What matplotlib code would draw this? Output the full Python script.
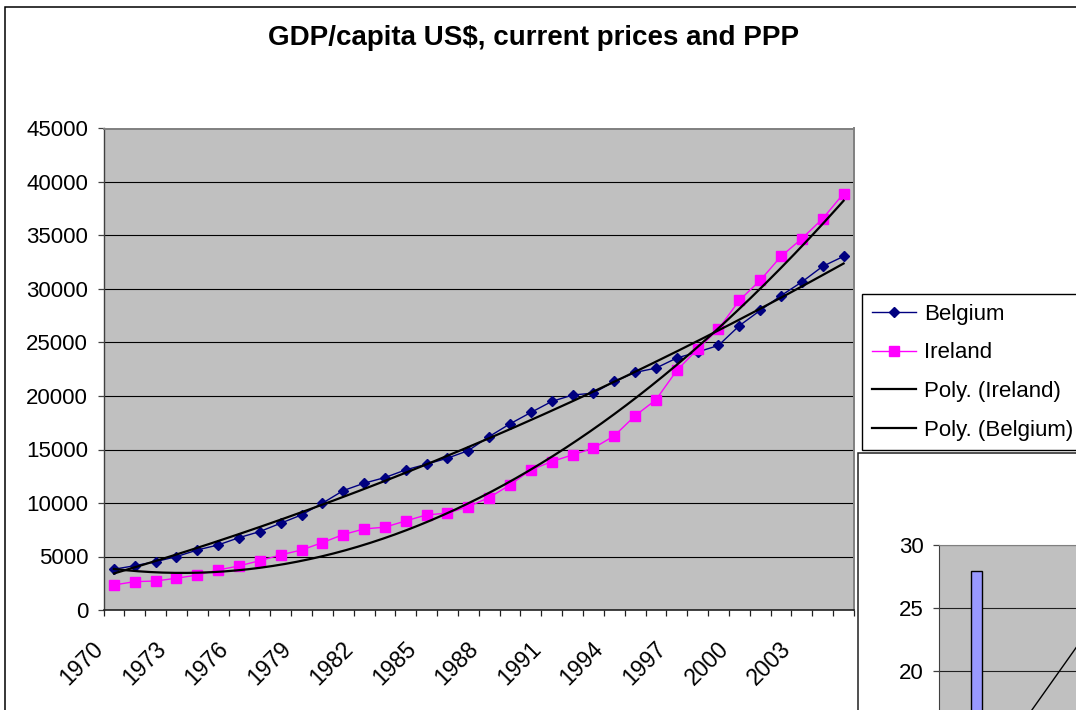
#!/usr/bin/env python3
"""GDP per capita (US$, current prices and PPP): Belgium vs Ireland, with poly trendlines."""

import matplotlib

matplotlib.use("Agg")
import matplotlib.pyplot as plt
import numpy as np
from matplotlib.lines import Line2D
from matplotlib.patches import Rectangle
from matplotlib.transforms import ScaledTranslation

YEARS = list(range(1970, 2006))
BELGIUM = [
    3810, 4140, 4520, 4990, 5610, 6080, 6760, 7330, 8110, 8890,
    9980, 11160, 11850, 12380, 13100, 13630, 14190, 14900, 16210, 17400,
    18460, 19490, 20090, 20270, 21360, 22200, 22610, 23550, 24110, 24730,
    26570, 28000, 29380, 30660, 32120, 33050,
]
IRELAND = [
    2340, 2650, 2710, 2970, 3270, 3740, 4120, 4610, 5150, 5610,
    6300, 7050, 7580, 7740, 8330, 8890, 9050, 9660, 10510, 11690,
    13100, 13870, 14500, 15130, 16280, 18150, 19650, 22390, 24390, 26260,
    28940, 30810, 33050, 34710, 36580, 38920,
]
Y_TICKS = list(range(0, 45001, 5000))

# second chart, only its top-left corner is in the picture
INSET_BAR = [27.9]
INSET_LINE = [10.7, 19.1, 27.5]
INSET_TICKS = [20, 25, 30]

W, H = 1076, 710
FONT = ["Liberation Sans", "DejaVu Sans"]
plt.rcParams["font.family"] = FONT


def fx(px):
    return px / W


def fy(py):
    return 1.0 - py / H


fig = plt.figure(figsize=(W / 100, H / 100), dpi=100)

# chart area frame (runs off the right and bottom edge)
fig.add_artist(Rectangle((fx(5), -0.2), 1.3, fy(6.5) + 0.2, transform=fig.transFigure,
                         facecolor="white", edgecolor="black", linewidth=1.1, zorder=-5))

left, right, top, bottom = 103.5, 854, 128.5, 610
ax = fig.add_axes([fx(left), fy(bottom), fx(right - left), (bottom - top) / H])
ax.set_facecolor("#C0C0C0")

x = np.arange(len(YEARS))
ax.plot(x, BELGIUM, color="#000080", linewidth=1.0, marker="D", markersize=5.6,
        markerfacecolor="#000080", markeredgecolor="#000080", zorder=3)
ax.plot(x, IRELAND, color="#FF00FF", linewidth=1.0, marker="s", markersize=7.0,
        markerfacecolor="#FF00FF", markeredgecolor="#FF00FF", zorder=3)

xs = np.linspace(0, len(YEARS) - 1, 300)
trend_ie = np.polyval(np.polyfit(x, IRELAND, 2), xs)
trend_be = np.polyval(np.polyfit(x, BELGIUM, 2), xs)
ax.plot(xs, trend_ie, color="black", linewidth=1.6, zorder=4)
ax.plot(xs, trend_be, color="black", linewidth=1.6, zorder=4)

ax.set_xlim(-0.5, len(YEARS) - 0.5)
ax.set_ylim(0, 45000)
ax.set_yticks(Y_TICKS)
ax.set_yticklabels([str(v) for v in Y_TICKS], fontsize=16)
ax.yaxis.grid(True, color="black", linewidth=0.8)
ax.set_axisbelow(True)

label_idx = list(range(0, len(YEARS), 3))
ax.set_xticks(label_idx)
ax.set_xticklabels([str(YEARS[i]) for i in label_idx], fontsize=16.5, rotation=45,
                   ha="right", va="top")
ax.set_xticks(np.arange(-0.5, len(YEARS), 1.0), minor=True)
ax.tick_params(axis="x", which="major", length=0, pad=19.5)
ax.tick_params(axis="x", which="minor", length=4.5, width=0.9, color="#202020", direction="out")
ax.tick_params(axis="y", length=4.5, width=0.9, color="#404040", pad=6.5, direction="out")
shift = ScaledTranslation(-6 / 100, 0, fig.dpi_scale_trans)
for lbl in ax.get_xticklabels():
    lbl.set_transform(lbl.get_transform() + shift)

for side in ("top", "right"):
    ax.spines[side].set_color("#808080")
    ax.spines[side].set_linewidth(1.4)
ax.spines["left"].set_color("#404040")
ax.spines["bottom"].set_color("#202020")
ax.spines["left"].set_linewidth(1.0)
ax.spines["bottom"].set_linewidth(1.2)

fig.text(fx(534), fy(45), "GDP/capita US$, current prices and PPP", ha="center",
         va="baseline", fontsize=20, fontweight="bold")

handles = [
    Line2D([], [], color="#000080", linewidth=1.0, marker="D", markersize=5.6),
    Line2D([], [], color="#FF00FF", linewidth=1.0, marker="s", markersize=7.0),
    Line2D([], [], color="black", linewidth=1.6),
    Line2D([], [], color="black", linewidth=1.6),
]
labels = ["Belgium", "Ireland", "Poly. (Ireland)", "Poly. (Belgium)"]
leg = fig.legend(handles, labels, loc="upper left", bbox_to_anchor=(fx(862), fy(294)),
                 fontsize=16, frameon=True, fancybox=False, shadow=False,
                 borderaxespad=0, borderpad=0.43, handlelength=2.0, handletextpad=0.35,
                 labelspacing=0.8, framealpha=1)
leg.get_frame().set_edgecolor("black")
leg.get_frame().set_linewidth(1.0)
leg.set_zorder(10)

# second chart peeking in at the lower right
fig.add_artist(Rectangle((fx(858), -0.2), 0.5, fy(453) + 0.2, transform=fig.transFigure,
                         facecolor="white", edgecolor="#202020", linewidth=1.1, zorder=2))
ix_left, ix_top, ix_w = 939, 545, 300
ix_h = 30 * 12.6
ax2 = fig.add_axes([fx(ix_left), fy(ix_top + ix_h), ix_w / W, ix_h / H], zorder=3)
ax2.set_facecolor("#C0C0C0")
ax2.bar([0.5], INSET_BAR, width=0.135, color="#9999FF", edgecolor="black", linewidth=1.0,
        zorder=3)
ax2.plot([0.5, 1.5, 2.5], INSET_LINE, color="black", linewidth=1.0, zorder=4)
ax2.set_xlim(0, 4)
ax2.set_ylim(0, 30)
ax2.set_yticks(INSET_TICKS)
ax2.set_yticklabels([str(v) for v in INSET_TICKS], fontsize=16)
ax2.yaxis.grid(True, color="#202020", linewidth=0.8)
ax2.set_axisbelow(True)
ax2.set_xticks([])
ax2.tick_params(axis="y", length=4.5, width=0.9, color="#404040", pad=6.5)
ax2.spines["top"].set_color("#808080")
ax2.spines["left"].set_color("#404040")

fig.savefig("out.png", dpi=100)
plt.close(fig)
